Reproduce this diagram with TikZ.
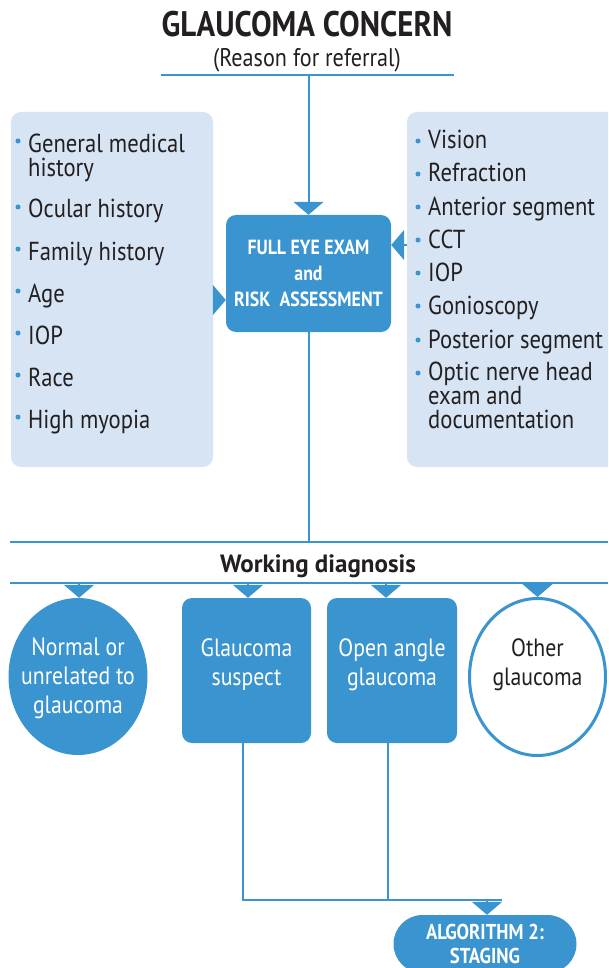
\documentclass[tikz,border=0pt]{standalone}
\usepackage{fontspec}
\setmainfont{PT Sans}[FakeStretch=0.87]
\newfontfamily\widefont{PT Sans}
\usetikzlibrary{arrows.meta,shapes.geometric}
\definecolor{eyeblue}{HTML}{3A94CF}
\definecolor{panelblue}{HTML}{D6E4F3}
\definecolor{inkgray}{HTML}{231F20}
\tikzset{
    flow/.style={draw=eyeblue, line width=2pt},
    tip/.style={-{Triangle[width=30pt,length=13pt]}},
    panel/.style={fill=panelblue, rounded corners=10pt, inner sep=0pt},
    item/.style={anchor=base west, inner sep=0pt, text=inkgray, align=left,
        font=\fontsize{26}{24}\selectfont},
    exambox/.style={fill=eyeblue, rounded corners=10pt, text=white, align=center,
        font=\fontsize{20.5}{26}\selectfont\bfseries, inner sep=0pt},
    diagbox/.style={fill=eyeblue, rounded corners=10pt, inner sep=0pt,
        minimum width=129pt, minimum height=145pt},
    diagtext/.style={text=white, align=center, inner sep=0pt,
        font=\fontsize{25}{29}\selectfont},
}
\begin{document}
\begin{tikzpicture}[x=1pt, y=-1pt]
    \useasboundingbox (0,0) rectangle (608,968);
    \fill[white] (0,0) rectangle (608,968);
    \clip (0,0) rectangle (608,968);
    \node[anchor=base, inner sep=0pt, text=inkgray, font=\fontsize{35.5}{36}\selectfont\bfseries] (title) at (307,37) {GLAUCOMA CONCERN};
    \node[anchor=base, inner sep=0pt, text=inkgray, font=\fontsize{25.5}{26}\selectfont] (reason) at (307,67) {(Reason for referral)};
    \coordinate (refL) at (161,75);
    \coordinate (refR) at (454,75);
    \draw[flow] (refL) -- (refR);

    \node[panel, minimum width=202pt, minimum height=355pt] (risk) at (112,289.5) {};
    \node[panel, minimum width=211pt, minimum height=355pt] (exams) at (512.5,289.5) {};
    \node[exambox, minimum width=165pt, minimum height=117pt] (exam) at (308.5,273.5) {FULL EYE EXAM\\and\\RISK\ \ ASSESSMENT};

    \draw[flow, tip] (exam.north |- refL) -- (exam.north);
    \draw[flow, tip] ([yshift=-10.5pt]risk.east) -- ([yshift=-10.5pt]risk.east -| exam.west);
    \draw[flow, tip] ([yshift=44.5pt]exams.west) -- ([yshift=44.5pt]exams.west -| exam.east);

    \node[item, text depth=0pt] (risk-1) at (28,177) {General medical\\history};
    \foreach \y/\t [count=\i from 2] in {218/Ocular history, 260/Family history, 302/Age, 344/IOP, 386/Race, 428/High myopia}
        \node[item] (risk-\i) at (28,\y) {\t};
    \foreach \y in {152,218,260,302,344,386,428}
        \fill[eyeblue] (18,{\y-11}) circle (2.5);

    \foreach \y/\t [count=\i] in {149/Vision, 182/Refraction, 215/Anterior segment, 248/CCT, 281/IOP, 314/Gonioscopy, 348/Posterior segment}
        \node[item] (exams-\i) at (428,\y) {\t};
    \node[item] (exams-8) at (428,428) {Optic nerve head\\exam and\\documentation};
    \foreach \y in {149,182,215,248,281,314,348,381}
        \fill[eyeblue] (418,{\y-8}) circle (2.5);

    \coordinate (wdL) at (10,542);
    \coordinate (wdR) at (608,542);
    \coordinate (dxL) at (10,583);
    \coordinate (dxR) at (608,583);
    \draw[flow] (exam.south) -- (exam.south |- wdL);
    \draw[flow] (wdL) -- (wdR);
    \node[anchor=base, inner sep=0pt, text=inkgray, font=\widefont\fontsize{25}{26}\selectfont\bfseries] (work) at (318,572) {Working diagnosis};
    \draw[flow] (dxL) -- (dxR);

    \node[ellipse, fill=eyeblue, minimum width=139pt, minimum height=157pt, inner sep=0pt] (normal) at (78,676.5) {};
    \node[diagbox] (suspect) at (246.5,670.5) {};
    \node[diagbox, minimum width=130pt] (oag) at (392,670.5) {};
    \node[ellipse, draw=eyeblue, line width=3pt, fill=white, minimum width=136pt, minimum height=157pt, inner sep=0pt] (other) at (537.5,677) {};

    \node[diagtext] (normal-t) at ([yshift=-2pt]normal.center) {Normal or\\unrelated to\\glaucoma};
    \node[diagtext] (suspect-t) at ([yshift=6pt]suspect.center) {Glaucoma\\suspect};
    \node[diagtext] (oag-t) at ([yshift=6pt]oag.center) {Open angle\\glaucoma};
    \node[diagtext, text=inkgray] (other-t) at ([yshift=12pt]other.center) {Other\\glaucoma};

    \draw[flow, tip] ([xshift=1pt]normal.north |- dxL) -- ([xshift=1pt]normal.north);
    \draw[flow, tip] ([xshift=1.5pt]suspect.north |- dxL) -- ([xshift=1.5pt]suspect.north);
    \draw[flow, tip] ([xshift=-6pt]oag.north |- dxL) -- ([xshift=-6pt]oag.north);
    \draw[flow, tip] (other.north |- dxL) -- (other.north);

    \node[fill=eyeblue, rounded corners=29pt, minimum width=183pt, minimum height=58pt, inner sep=0pt,
        text=white, align=center, font=\fontsize{21.5}{24}\selectfont\bfseries] (stage) at (485,944) {ALGORITHM 2:\\STAGING};
    \draw[flow] ([xshift=-4pt]suspect.south) |- ([xshift=17pt,yshift=15pt]stage.north);
    \draw[flow] ([xshift=-4pt]oag.south) -- ([xshift=-4pt,yshift=15pt]oag.south |- stage.north);
    \draw[flow, tip] ([xshift=2pt,yshift=15pt]stage.north) -- ([xshift=2pt]stage.north);
\end{tikzpicture}
\end{document}
